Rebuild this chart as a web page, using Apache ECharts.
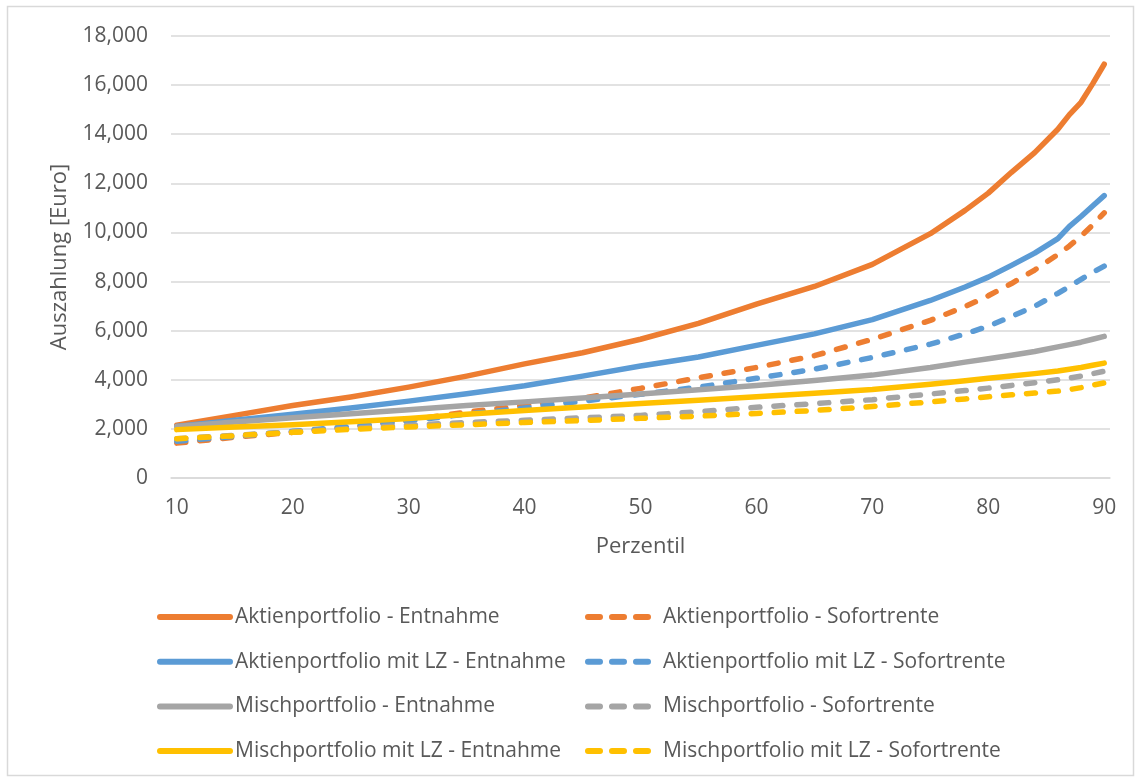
<!DOCTYPE html>
<html>
<head>
<meta charset="utf-8">
<title>Auszahlung nach Perzentil</title>
<script src="https://cdn.jsdelivr.net/npm/echarts@6/dist/echarts.min.js"></script>
<style>
  html, body { margin: 0; padding: 0; background: #ffffff; }
  #chart { width: 1140px; height: 780px; }
</style>
</head>
<body>
<div id="chart"></div>
<script>
// Percentile categories 10 … 90 on the horizontal axis
const percentiles = Array.from({ length: 81 }, (_, i) => String(10 + i));

// Percentiles at which the payouts are given
const samplePct = [10, 15, 20, 25, 30, 35, 40, 45, 50, 55, 60, 65, 70, 75, 78, 80, 82, 84, 86, 87, 88, 89, 90];

// Payout in Euro per portfolio and payout form
const aktienEntnahme      = [2150, 2550, 2950, 3300, 3700, 4150, 4650, 5100, 5650, 6300, 7080, 7800, 8700, 9950, 10900, 11600, 12450, 13250, 14200, 14800, 15300, 16050, 16850];
const aktienSofortrente   = [1420, 1660, 1860, 2060, 2350, 2680, 2950, 3250, 3650, 4080, 4500, 4980, 5650, 6420, 6980, 7420, 7920, 8470, 9100, 9450, 9850, 10300, 10800];
const aktienLzEntnahme    = [2100, 2350, 2600, 2850, 3130, 3430, 3760, 4150, 4560, 4930, 5400, 5870, 6450, 7230, 7780, 8180, 8660, 9160, 9750, 10250, 10650, 11080, 11500];
const aktienLzSofortrente = [1500, 1690, 1900, 2100, 2330, 2600, 2850, 3130, 3410, 3700, 4060, 4430, 4910, 5450, 5870, 6180, 6580, 6990, 7520, 7800, 8090, 8370, 8630];
const mischEntnahme       = [2100, 2280, 2450, 2620, 2780, 2950, 3100, 3260, 3420, 3590, 3770, 3970, 4190, 4500, 4720, 4860, 5000, 5150, 5340, 5430, 5530, 5650, 5770];
const mischSofortrente    = [1600, 1740, 1880, 2020, 2150, 2260, 2350, 2450, 2550, 2700, 2880, 3030, 3190, 3420, 3560, 3660, 3770, 3880, 4000, 4070, 4150, 4250, 4350];
const mischLzEntnahme     = [1970, 2080, 2170, 2290, 2420, 2600, 2750, 2890, 3030, 3170, 3310, 3450, 3600, 3820, 3960, 4060, 4150, 4250, 4360, 4430, 4500, 4590, 4680];
const mischLzSofortrente  = [1600, 1720, 1860, 1980, 2080, 2170, 2260, 2340, 2430, 2520, 2630, 2750, 2910, 3100, 3220, 3310, 3390, 3460, 3540, 3600, 3680, 3780, 3870];

// Y axis range
const yMin = 0, yMax = 18000, yStep = 2000;

const FONT = '"Open Sans", "DejaVu Sans", sans-serif';
const TEXT = '#595959';
const GRID = '#d9d9d9';
const ORANGE = '#ED7D31', BLUE = '#5B9BD5', GRAY = '#A5A5A5', YELLOW = '#FFC000';
const LINE_WIDTH = 5.5;
const LEGEND_WIDTH = 6;
const SERIES_DASH = [9, 14];
const LEGEND_DASH = [12, 12];

function lineSeries(name, values, color, dashed) {
  return {
    name: name,
    type: 'line',
    xAxisIndex: 0,
    symbol: 'none',
    data: samplePct.map((p, i) => [String(p), values[i]]),
    itemStyle: { color: color },
    lineStyle: { color: color, width: LINE_WIDTH, type: dashed ? SERIES_DASH : 'solid', cap: 'round', join: 'round' },
    emphasis: { disabled: true }
  };
}

const seriesList = [
  lineSeries('Aktienportfolio - Entnahme', aktienEntnahme, ORANGE, false),
  lineSeries('Aktienportfolio - Sofortrente', aktienSofortrente, ORANGE, true),
  lineSeries('Aktienportfolio mit LZ - Entnahme', aktienLzEntnahme, BLUE, false),
  lineSeries('Aktienportfolio mit LZ - Sofortrente', aktienLzSofortrente, BLUE, true),
  lineSeries('Mischportfolio - Entnahme', mischEntnahme, GRAY, false),
  lineSeries('Mischportfolio - Sofortrente', mischSofortrente, GRAY, true),
  lineSeries('Mischportfolio mit LZ - Entnahme', mischLzEntnahme, YELLOW, false),
  lineSeries('Mischportfolio mit LZ - Sofortrente', mischLzSofortrente, YELLOW, true)
];

// Legend keys show only the line; the marker dot is made transparent
const legendCommon = {
  orient: 'vertical',
  top: 606,
  padding: 0,
  itemWidth: 70,
  itemHeight: 14,
  itemGap: 22.7,
  selectedMode: false,
  itemStyle: { color: 'rgba(0,0,0,0)', borderColor: 'rgba(0,0,0,0)', borderWidth: 0 },
  lineStyle: { width: LEGEND_WIDTH, cap: 'round' },
  textStyle: { fontFamily: FONT, fontSize: 21, color: TEXT, lineHeight: 22 }
};

const tickStyle = { color: GRID, width: 1.5 };

const chart = echarts.init(document.getElementById('chart'), null, { renderer: 'canvas' });
chart.setOption({
  animation: false,
  backgroundColor: '#ffffff',
  textStyle: { fontFamily: FONT },
  graphic: [{
    type: 'rect',
    shape: { x: 7.5, y: 6.5, width: 1126, height: 769 },
    style: { fill: null, stroke: GRID, lineWidth: 1.5 },
    silent: true,
    z: -10
  }],
  grid: { left: 171, right: 30, top: 36, bottom: 302 },
  legend: [
    Object.assign({}, legendCommon, {
      left: 157,
      data: seriesList.filter((s, i) => i % 2 === 0).map(s => ({ name: s.name }))
    }),
    Object.assign({}, legendCommon, {
      left: 585,
      data: seriesList.filter((s, i) => i % 2 === 1).map(s => ({ name: s.name, lineStyle: { type: LEGEND_DASH } }))
    })
  ],
  xAxis: [{
    type: 'category',
    data: percentiles,
    boundaryGap: true,
    position: 'bottom',
    axisLine: { lineStyle: tickStyle },
    axisTick: { interval: 9, length: 7, lineStyle: tickStyle },
    axisLabel: { interval: 9, margin: 20, fontFamily: FONT, fontSize: 21, color: TEXT },
    splitLine: { show: false },
    name: 'Perzentil',
    nameLocation: 'middle',
    nameGap: 58,
    nameTextStyle: { fontFamily: FONT, fontSize: 22, color: TEXT }
  }, {
    type: 'category',
    data: percentiles,
    boundaryGap: true,
    position: 'bottom',
    axisLine: { show: false },
    axisTick: { inside: true, interval: 9, length: 7, lineStyle: tickStyle },
    axisLabel: { show: false },
    splitLine: { show: false }
  }],
  yAxis: {
    type: 'value',
    min: yMin,
    max: yMax,
    interval: yStep,
    axisLine: { show: false },
    axisTick: { show: false },
    splitLine: { lineStyle: { color: GRID, width: 1.5 } },
    axisLabel: {
      margin: 23,
      fontFamily: FONT,
      fontSize: 21,
      color: TEXT,
      formatter: v => String(v).replace(/\B(?=(\d{3})+(?!\d))/g, ',')
    },
    name: 'Auszahlung [Euro]',
    nameLocation: 'middle',
    nameRotate: 90,
    nameGap: 100,
    nameTextStyle: { fontFamily: FONT, fontSize: 22, color: TEXT }
  },
  series: seriesList
});
</script>
</body>
</html>
